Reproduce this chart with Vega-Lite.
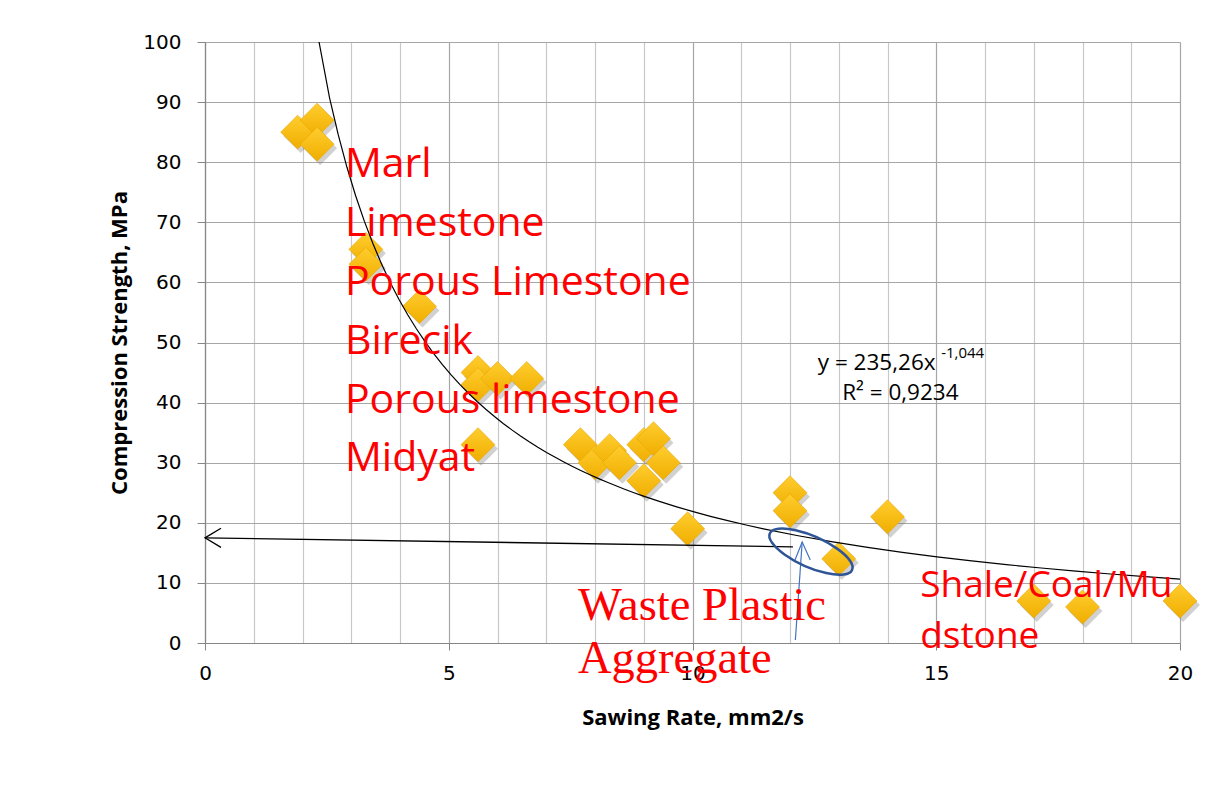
{
  "$schema": "https://vega.github.io/schema/vega-lite/v6.json",
  "autosize": {"type": "none"},
  "width": 975,
  "height": 601,
  "padding": {"left": 205, "top": 42, "right": 35, "bottom": 150},
  "background": "white",
  "config": {"view": {"stroke": null}},
  "datasets": {
    "pts": [
      {"x": 1.9, "y": 85}, {"x": 2.3, "y": 87}, {"x": 2.3, "y": 83},
      {"x": 3.3, "y": 65.5}, {"x": 3.3, "y": 63}, {"x": 4.4, "y": 56},
      {"x": 5.6, "y": 45}, {"x": 5.6, "y": 43}, {"x": 6.0, "y": 44}, {"x": 6.6, "y": 44},
      {"x": 5.6, "y": 33}, {"x": 7.7, "y": 33}, {"x": 8.0, "y": 30}, {"x": 8.3, "y": 32},
      {"x": 8.5, "y": 30}, {"x": 9.0, "y": 33}, {"x": 9.2, "y": 34}, {"x": 9.4, "y": 30},
      {"x": 9.0, "y": 27}, {"x": 9.9, "y": 19}, {"x": 12, "y": 25}, {"x": 12, "y": 22},
      {"x": 14, "y": 21}, {"x": 13, "y": 14}, {"x": 17, "y": 7}, {"x": 18, "y": 6}, {"x": 20, "y": 7}
    ],
    "redList": [
      {"x": 2.87, "y": 77.5, "label": "Marl"},
      {"x": 2.87, "y": 67.7, "label": "Limestone"},
      {"x": 2.87, "y": 57.9, "label": "Porous Limestone"},
      {"x": 2.87, "y": 48.1, "label": "Birecik"},
      {"x": 2.87, "y": 38.3, "label": "Porous limestone"},
      {"x": 2.87, "y": 28.6, "label": "Midyat"}
    ],
    "waste": [
      {"x": 7.65, "y": 3.83, "label": "Waste Plastic"},
      {"x": 7.65, "y": -5.0, "label": "Aggregate"}
    ],
    "shale": [
      {"x": 14.67, "y": 7.65, "label": "Shale/Coal/Mu"},
      {"x": 14.67, "y": -0.8, "label": "dstone"}
    ],
    "eq": [
      {"x": 12.57, "y": 45.4, "label": "y = 235,26x"},
      {"x": 13.07, "y": 40.4, "label": "R² = 0,9234"}
    ],
    "sup": [{"x": 15.1, "y": 47.4, "label": "-1,044"}],
    "blackArrow": [{"x": 0, "y": 17.5, "x2": 12.06, "y2": 16.0}],
    "blackHead": [{"x": 0, "y": 17.5}],
    "blueArrow": [{"x": 12.11, "y": 0.5, "x2": 12.25, "y2": 16.8}],
    "blueHead": [{"x": 12.25, "y": 16.8}],
    "ellipse": [{"x": 12.43, "y": 15.2}]
  },
  "encoding": {
    "x": {
      "field": "x", "type": "quantitative",
      "scale": {"domain": [0, 20], "nice": false, "zero": false},
      "axis": {
        "title": "Sawing Rate, mm2/s",
        "values": [0,1,2,3,4,5,6,7,8,9,10,11,12,13,14,15,16,17,18,19,20],
        "labelExpr": "datum.value % 5 === 0 ? datum.label : ''",
        "grid": true,
        "gridColor": {"condition": {"test": "datum.value % 5 === 0", "value": "#a6a6a6"}, "value": "#c8c8c8"},
        "gridWidth": 1.2,
        "tickOpacity": {"condition": {"test": "datum.value % 5 === 0", "value": 1}, "value": 0},
        "tickColor": "#868686", "tickSize": 7,
        "domainColor": "#868686", "domainWidth": 1.2,
        "labelFont": "DejaVu Sans", "labelFontSize": 20, "labelColor": "#000000", "labelPadding": 13,
        "labelFlush": false,
        "titleFont": "Open Sans", "titleFontSize": 22, "titleFontWeight": "bold", "titleColor": "#000000",
        "titlePadding": 24
      }
    },
    "y": {
      "field": "y", "type": "quantitative",
      "scale": {"domain": [0, 100], "nice": false, "zero": false},
      "axis": {
        "title": "Compression Strength, MPa",
        "values": [0,10,20,30,40,50,60,70,80,90,100],
        "grid": true, "gridColor": "#a6a6a6", "gridWidth": 1.2,
        "tickColor": "#868686", "tickSize": 8,
        "domainColor": "#868686", "domainWidth": 1.2,
        "labelFont": "DejaVu Sans", "labelFontSize": 20, "labelColor": "#000000", "labelPadding": 16,
        "labelFlush": false,
        "titleFont": "Open Sans", "titleFontSize": 22, "titleFontWeight": "bold", "titleColor": "#000000",
        "titlePadding": 11
      }
    }
  },
  "layer": [
    {
      "data": {"name": "pts"},
      "mark": {"type": "point", "shape": "diamond", "filled": true, "size": 1150, "color": "#7a7a7a", "opacity": 0.35, "xOffset": 3, "yOffset": 4}
    },
    {
      "data": {"name": "pts"},
      "mark": {
        "type": "point", "shape": "diamond", "filled": true, "size": 1150, "opacity": 1,
        "fill": {"gradient": "linear", "x1": 0, "y1": 0, "x2": 0, "y2": 1,
          "stops": [{"offset": 0, "color": "#FFCD2E"}, {"offset": 1, "color": "#F0AE00"}]},
        "stroke": "#E5A500", "strokeWidth": 0.6
      }
    },
    {
      "data": {"name": "pts"},
      "transform": [{"regression": "y", "on": "x", "method": "pow", "extent": [2.2, 20]}],
      "mark": {"type": "line", "color": "#000000", "strokeWidth": 1.2, "clip": true}
    },
    {
      "data": {"name": "blackArrow"},
      "mark": {"type": "rule", "color": "#000000", "strokeWidth": 1.4},
      "encoding": {"x2": {"field": "x2"}, "y2": {"field": "y2"}}
    },
    {
      "data": {"name": "blackHead"},
      "mark": {"type": "point", "shape": "M 1 -0.6 L 0 0 L 1 0.6", "filled": false, "size": 1024, "color": "#000000", "strokeWidth": 1.3, "opacity": 1}
    },
    {
      "data": {"name": "blueArrow"},
      "mark": {"type": "rule", "color": "#4472C4", "strokeWidth": 1.2},
      "encoding": {"x2": {"field": "x2"}, "y2": {"field": "y2"}}
    },
    {
      "data": {"name": "blueHead"},
      "mark": {"type": "point", "shape": "M -0.4 1 L 0 0 L 0.45 1", "filled": false, "size": 1296, "color": "#4472C4", "strokeWidth": 1.2, "opacity": 1}
    },
    {
      "data": {"name": "ellipse"},
      "mark": {"type": "point", "shape": "M -0.9135 -0.4067 A 1 0.34 24 1 1 0.9135 0.4067 A 1 0.34 24 1 1 -0.9135 -0.4067 Z", "filled": false, "size": 8100, "color": "#2F5597", "strokeWidth": 2.5, "opacity": 1}
    },
    {
      "data": {"name": "redList"},
      "mark": {"type": "text", "align": "left", "baseline": "alphabetic", "font": "Open Sans", "fontSize": 41, "color": "#FF0000", "clip": false},
      "encoding": {"text": {"field": "label"}}
    },
    {
      "data": {"name": "waste"},
      "mark": {"type": "text", "align": "left", "baseline": "alphabetic", "font": "Liberation Serif", "fontSize": 46.5, "color": "#FF0000", "clip": false},
      "encoding": {"text": {"field": "label"}}
    },
    {
      "data": {"name": "shale"},
      "mark": {"type": "text", "align": "left", "baseline": "alphabetic", "font": "Open Sans", "fontSize": 37, "color": "#FF0000", "clip": false},
      "encoding": {"text": {"field": "label"}}
    },
    {
      "data": {"name": "eq"},
      "mark": {"type": "text", "align": "left", "baseline": "alphabetic", "font": "Open Sans", "fontSize": 22.5, "color": "#000000"},
      "encoding": {"text": {"field": "label"}}
    },
    {
      "data": {"name": "sup"},
      "mark": {"type": "text", "align": "left", "baseline": "alphabetic", "font": "Open Sans", "fontSize": 15, "color": "#000000"},
      "encoding": {"text": {"field": "label"}}
    }
  ]
}
